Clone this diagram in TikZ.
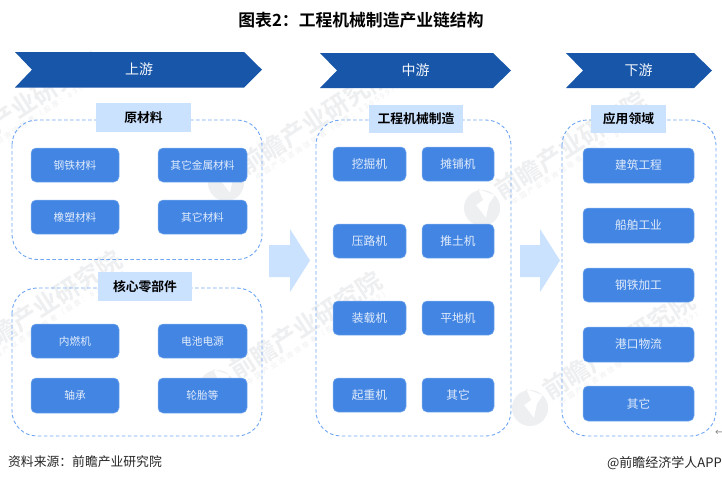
\documentclass[tikz,border=0pt]{standalone}
\usepackage{fontspec}
\setmainfont{Noto Sans CJK SC}
\newfontfamily\cjkb{Noto Sans CJK SC Bold}
\newfontfamily\cjkw{Noto Sans CJK SC}[LetterSpace=35]
\newfontfamily\latn{DejaVu Sans}
\definecolor{navy}{HTML}{1756A9}
\definecolor{btn}{HTML}{4285E3}
\definecolor{btnedge}{HTML}{7FAEF0}
\definecolor{pale}{HTML}{CBE2FF}
\definecolor{dash}{HTML}{6FA5F5}
\definecolor{wm}{HTML}{6F7C90}
\tikzset{
 x=1pt,y=-1pt,
 chev/.style={fill=navy,draw=none},
 chevtext/.style={text=white!95!navy,font=\fontsize{14}{14}\selectfont,inner sep=0pt},
 group/.style={draw=dash,line width=0.9pt,dash pattern=on 3.5pt off 2.5pt,rounded corners=25pt,fill=none},
 heading/.style={fill=pale,text=black,font=\cjkb\fontsize{12.8}{13}\selectfont,inner sep=0pt,anchor=center},
 item/.style={fill=btn,draw=btnedge,line width=0.5pt,rounded corners=5pt,text=white!85!btn,font=\fontsize{10.7}{12}\selectfont,inner sep=0pt,anchor=center},
 itembig/.style={item,font=\fontsize{11.7}{12}\selectfont},
 flow/.style={fill=pale,draw=none},
 wmark/.style={text=wm,text opacity=0.12,font=\cjkb\fontsize{25}{25}\selectfont,rotate=33,inner sep=0pt,anchor=west},
 wsub/.style={text=wm,text opacity=0.12,font=\cjkw\fontsize{7}{7}\selectfont,rotate=33,inner sep=0pt,anchor=west},
}
\newcommand{\boxat}[7][item]{\node[#1,minimum width=#4 pt-#2 pt,minimum height=#5 pt-#3 pt] (#6) at ({(#2+#4)/2},{(#3+#5)/2}) {#7};}
\newcommand{\headat}[6]{\node[heading,minimum width=#3 pt-#1 pt,minimum height=#4 pt-#2 pt] (#5) at ({(#1+#3)/2},{(#2+#4)/2}) {#6};}
\newcommand{\wmk}[3]{%
 \node[wmark] (w#1) at (#2,#3) {前瞻产业研究院};
 \node[wsub] (v#1) at (#2+15,#3+10) {中国产业咨询领导者（股票：839599）};
 \fill[wm,fill opacity=0.12,even odd rule,shift={(#2-15,#3+15)}] (0,0) circle[radius=18pt]
   (-4,-19) -- (13,-13) -- (7,-4) -- (4,10) -- (-6,-3) -- (1,-8) -- cycle;
}
\begin{document}
\begin{tikzpicture}
\useasboundingbox (0,0) rectangle (722,483);
\fill[white] (0,0) rectangle (722,483);
% watermarks
\wmk{a}{-50}{153}
\wmk{b}{241}{168}
\wmk{c}{497}{193}
\wmk{d}{-28}{352}
\wmk{e}{232}{373}
\wmk{f}{545}{393}
% title
\node[font=\cjkb\fontsize{16.8}{17}\selectfont,inner sep=0pt] (title) at (361,20) {图表2：工程机械制造产业链结构};
% chevrons
\fill[chev] (15,52) -- (244,52) -- (262,69.7) -- (244,87.5) -- (15,87.5) -- (32,69.7) -- cycle;
\node[chevtext] (c1) at (139,69.5) {上游};
\fill[chev] (320,53) -- (493,53) -- (511,70.5) -- (493,88) -- (320,88) -- (337,70.5) -- cycle;
\node[chevtext] (c2) at (415.5,70) {中游};
\fill[chev] (566,53) -- (694,53) -- (712,70.5) -- (694,88) -- (566,88) -- (583,70.5) -- cycle;
\node[chevtext] (c3) at (638.5,70) {下游};
% groups
\draw[group] (12,120) rectangle (262,259.5);
\draw[group] (12,288) rectangle (262,436);
\draw[group] (316,120) rectangle (511,436);
\draw[group] (562,120) rectangle (716,436);
% headings
\headat{96}{103}{191}{132}{h1}{原材料}
\headat{98}{272}{192}{301}{h2}{核心零部件}
\headat{369}{105}{463}{133}{h3}{工程机械制造}
\headat{591}{105}{666}{133}{h4}{应用领域}
% items left
\boxat{31}{148}{119}{182}{a1}{钢铁材料}
\boxat{158}{148}{247}{182}{a2}{其它金属材料}
\boxat{31}{200}{119}{234}{a3}{橡塑材料}
\boxat{158}{200}{247}{234}{a4}{其它材料}
\boxat{31}{324}{119}{358}{b1}{内燃机}
\boxat{158}{324}{247}{358}{b2}{电池电源}
\boxat{31}{378}{119}{413}{b3}{轴承}
\boxat{158}{378}{247}{413}{b4}{轮胎等}
% items middle
\boxat[itembig]{333}{147}{406}{181}{m1}{挖掘机}
\boxat[itembig]{422}{147}{494}{181}{m2}{摊铺机}
\boxat[itembig]{333}{224}{406}{258}{m3}{压路机}
\boxat[itembig]{422}{224}{494}{258}{m4}{推土机}
\boxat[itembig]{333}{301}{406}{335}{m5}{装载机}
\boxat[itembig]{422}{301}{494}{335}{m6}{平地机}
\boxat[itembig]{333}{378}{406}{412}{m7}{起重机}
\boxat[itembig]{422}{378}{494}{412}{m8}{其它}
% items right
\boxat[itembig]{583}{148}{694}{183}{r1}{建筑工程}
\boxat[itembig]{583}{208}{694}{243}{r2}{船舶工业}
\boxat[itembig]{583}{268}{694}{302}{r3}{钢铁加工}
\boxat[itembig]{583}{327}{694}{362}{r4}{港口物流}
\boxat[itembig]{583}{386}{694}{421}{r5}{其它}
% flow arrows
\fill[flow] (269,245) -- (290,245) -- (290,229) -- (310,260.5) -- (290,292) -- (290,277) -- (269,277) -- cycle;
\fill[flow] (520,245) -- (540,245) -- (540,229) -- (560,260.5) -- (540,292) -- (540,277) -- (520,277) -- cycle;
% footer
\node[font=\fontsize{12.8}{13}\selectfont,text=black!85,inner sep=0pt,anchor=west] (src) at (8,462) {资料来源：前瞻产业研究院};
\node[font=\fontsize{13}{13}\selectfont,text=black!85,inner sep=0pt,anchor=east] (app) at (722,463) {@前瞻经济学人APP};
\node[font=\latn\fontsize{10}{10}\selectfont,text=black!45,inner sep=0pt,anchor=west] (mark) at (715,432.5) {←};
\end{tikzpicture}
\end{document}
